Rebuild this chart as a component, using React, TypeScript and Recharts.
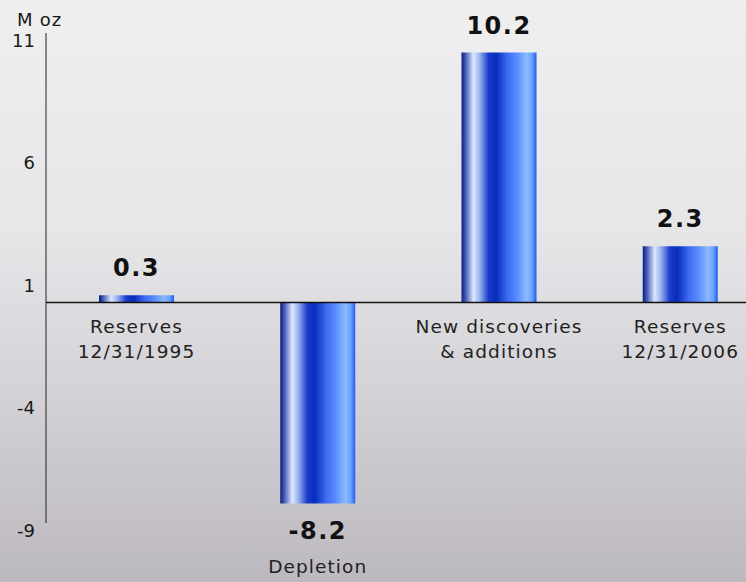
import React from "react";
import { BarChart, Bar, XAxis, YAxis, ReferenceLine, LabelList } from "recharts";

const categories = [
  "Reserves 12/31/1995",
  "Depletion",
  "New discoveries & additions",
  "Reserves 12/31/2006",
];
const categoryLines = [
  ["Reserves", "12/31/1995"],
  ["Depletion"],
  ["New discoveries", "& additions"],
  ["Reserves", "12/31/2006"],
];
const values = [0.3, -8.2, 10.2, 2.3];
const yTicks = [-9, -4, 1, 6, 11];

const FONT = "'DejaVu Sans', Verdana, sans-serif";

const data = categories.map((name, i) => ({
  name,
  value: values[i],
  lines: categoryLines[i],
}));

function YTick({ x, y, payload }: any) {
  return (
    <text
      x={x}
      y={y + 7}
      textAnchor="end"
      dominantBaseline="central"
      fontFamily={FONT}
      fontSize={18}
      fill="#1a1a1a"
    >
      {payload.value}
    </text>
  );
}

function ValueLabel({ x, y, width, height, value }: any) {
  const top = Math.min(y, y + height);
  const bottom = Math.max(y, y + height);
  const neg = value < 0;
  return (
    <text
      x={x + width / 2}
      y={neg ? bottom + 28 : top - 27}
      textAnchor="middle"
      dominantBaseline="central"
      fontFamily={FONT}
      fontWeight="bold"
      fontSize={24}
      letterSpacing={1.5}
      fill="#111"
    >
      {value}
    </text>
  );
}

function NameLabel({ x, y, width, height, index }: any) {
  const bottom = Math.max(y, y + height);
  const neg = values[index] < 0;
  const start = neg ? bottom + 63 : bottom + 24;
  return (
    <text
      textAnchor="middle"
      fontFamily={FONT}
      fontSize={18.5}
      letterSpacing={1.1}
      fill="#222"
    >
      {categoryLines[index].map((line, k) => (
        <tspan
          key={k}
          x={x + width / 2}
          y={start + k * 25}
          dominantBaseline="central"
        >
          {line}
        </tspan>
      ))}
    </text>
  );
}

export default function App() {
  return (
    <div
      style={{
        position: "absolute",
        left: 0,
        top: 0,
        width: 746,
        height: 582,
        overflow: "hidden",
        background:
          "linear-gradient(180deg, #efeff0 0%, #e6e5e8 40%, #d2d0d4 70%, #bcb8bf 100%)",
      }}
    >
      <div
        style={{
          position: "absolute",
          left: 17,
          top: 8,
          fontFamily: FONT,
          fontSize: 18,
          lineHeight: "24px",
          letterSpacing: 0.8,
          color: "#1a1a1a",
        }}
      >
        M oz
      </div>
      <BarChart
        width={790}
        height={582}
        data={data}
        margin={{ top: 33, right: 19, bottom: 59, left: 0 }}
      >
        <defs>
          <linearGradient id="barGrad" x1="0" y1="0" x2="1" y2="0">
            <stop offset="0%" stopColor="#0a1a7e" />
            <stop offset="6%" stopColor="#4a62b8" />
            <stop offset="16%" stopColor="#dce8ff" />
            <stop offset="24%" stopColor="#9ab4ee" />
            <stop offset="36%" stopColor="#1a3ccc" />
            <stop offset="46%" stopColor="#082cbc" />
            <stop offset="62%" stopColor="#3e6ef2" />
            <stop offset="74%" stopColor="#5a8cff" />
            <stop offset="87%" stopColor="#8cbaff" />
            <stop offset="94%" stopColor="#6aa2ff" />
            <stop offset="100%" stopColor="#1e5cf0" />
          </linearGradient>
        </defs>
        <XAxis dataKey="name" hide />
        <YAxis
          width={46}
          domain={[-9, 11]}
          ticks={yTicks}
          interval={0}
          tickLine={false}
          tickSize={0}
          tickMargin={11}
          axisLine={{ stroke: "#222", strokeWidth: 1 }}
          tick={<YTick />}
        />
        <ReferenceLine y={0} stroke="#111" strokeWidth={1.5} />
        <Bar
          dataKey="value"
          fill="url(#barGrad)"
          barSize={75}
          isAnimationActive={false}
        >
          <LabelList dataKey="value" content={<ValueLabel />} />
          <LabelList dataKey="name" content={<NameLabel />} />
        </Bar>
      </BarChart>
    </div>
  );
}
